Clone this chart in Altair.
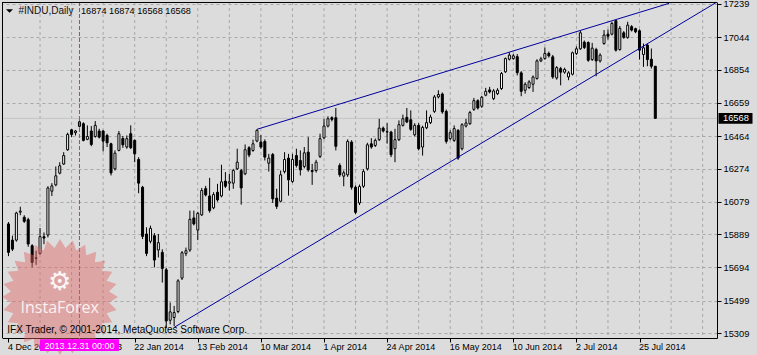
import math
import altair as alt
import pandas as pd

# ---------------- data ----------------
opens = [15949, 15854, 15854, 16018, 15988, 15974, 15821, 15747, 15776, 15874,
         15884, 16141, 16178, 16247, 16300, 16384, 16501, 16484, 16521, 16537,
         16445, 16494, 16462, 16494, 16494, 16468, 16419, 16272, 16380, 16450,
         16400, 16478, 16439, 16327, 16164, 15890, 15847, 15880, 15796, 15782,
         15680, 15384, 15400, 15435, 15631, 15776, 15796, 15984, 15913, 16002,
         16156, 16113, 16043, 16135, 16113, 16200, 16188, 16188, 16272, 16262,
         16243, 16396, 16380, 16435, 16429, 16433, 16305, 16356, 16100, 16082,
         16256, 16335, 16198, 16350, 16321, 16286, 16370, 16262, 16262, 16345,
         16454, 16523, 16572, 16572, 16292, 16229, 16237, 16429, 16164, 16072,
         16170, 16272, 16419, 16409, 16443, 16511, 16488, 16488, 16390, 16443,
         16527, 16574, 16560, 16472, 16527, 16400, 16513, 16543, 16609, 16694,
         16711, 16609, 16449, 16439, 16498, 16390, 16523, 16537, 16621, 16672,
         16639, 16704, 16735, 16684, 16713, 16743, 16841, 16915, 16919, 16930,
         16835, 16733, 16749, 16768, 16802, 16905, 16919, 16949, 16929, 16805,
         16860, 16839, 16811, 16827, 16949, 16976, 17015, 17013, 16913, 16972,
         16905, 17007, 17062, 17062, 17141, 16972, 17070, 17043, 17106, 17094,
         17082, 16943, 16998, 16915, 16874]
highs = [15960, 15880, 16020, 16050, 16000, 15985, 15830, 15792, 15925, 15899,
         16170, 16188, 16286, 16311, 16370, 16484, 16505, 16500, 16556, 16545,
         16527, 16523, 16552, 16507, 16500, 16478, 16425, 16380, 16494, 16465,
         16468, 16527, 16445, 16340, 16172, 15929, 15939, 15895, 15890, 15800,
         15690, 15488, 15468, 15625, 15790, 15810, 16027, 16027, 16020, 16160,
         16172, 16219, 16135, 16184, 16296, 16253, 16243, 16272, 16390, 16272,
         16415, 16405, 16443, 16504, 16470, 16445, 16360, 16365, 16155, 16262,
         16370, 16360, 16360, 16390, 16380, 16400, 16458, 16301, 16325, 16478,
         16566, 16580, 16580, 16629, 16305, 16262, 16445, 16440, 16175, 16180,
         16270, 16425, 16452, 16450, 16566, 16520, 16540, 16495, 16507, 16556,
         16590, 16629, 16615, 16540, 16540, 16525, 16615, 16590, 16705, 16733,
         16720, 16620, 16498, 16527, 16505, 16540, 16566, 16612, 16688, 16680,
         16700, 16747, 16753, 16740, 16745, 16840, 16925, 16955, 16947, 16945,
         16845, 16780, 16792, 16820, 16915, 16929, 16984, 16960, 16940, 16875,
         16870, 16865, 16845, 16960, 16990, 17082, 17025, 17020, 17011, 16982,
         16950, 17086, 17090, 17135, 17145, 17110, 17080, 17135, 17115, 17100,
         17090, 17007, 17005, 16978, 16874]
lows = [15760, 15790, 15845, 16000, 15955, 15815, 15694, 15709, 15770, 15830,
        15870, 16113, 16170, 16240, 16295, 16378, 16458, 16468, 16515, 16433,
        16440, 16405, 16455, 16450, 16374, 16400, 16233, 16262, 16375, 16395,
        16390, 16388, 16311, 16129, 15860, 15760, 15835, 15694, 15752, 15605,
        15340, 15360, 15350, 15425, 15620, 15760, 15785, 15940, 15854, 15995,
        16110, 16015, 16035, 16080, 16105, 16160, 16145, 16155, 16265, 16062,
        16235, 16340, 16372, 16428, 16390, 16321, 16256, 16072, 16037, 16075,
        16245, 16115, 16190, 16280, 16233, 16275, 16255, 16178, 16250, 16335,
        16445, 16515, 16550, 16380, 16225, 16170, 16225, 16150, 16007, 16060,
        16160, 16262, 16390, 16400, 16435, 16485, 16420, 16341, 16311, 16435,
        16520, 16540, 16495, 16462, 16380, 16350, 16505, 16535, 16600, 16685,
        16595, 16420, 16440, 16430, 16325, 16380, 16515, 16530, 16612, 16620,
        16630, 16698, 16715, 16675, 16705, 16735, 16835, 16908, 16912, 16820,
        16698, 16713, 16740, 16723, 16795, 16898, 16912, 16925, 16800, 16795,
        16762, 16830, 16792, 16820, 16940, 16970, 16975, 16900, 16905, 16815,
        16895, 17000, 17030, 17055, 16960, 16965, 17035, 17035, 17078, 17068,
        16913, 16870, 16874, 16860, 16568]
closes = [15782, 15801, 16013, 16024, 15964, 15831, 15723, 15750, 15874, 15866,
          16160, 16172, 16231, 16290, 16350, 16474, 16474, 16494, 16548, 16439,
          16462, 16415, 16527, 16458, 16435, 16425, 16248, 16364, 16478, 16413,
          16449, 16396, 16360, 16188, 15876, 15776, 15923, 15737, 15839, 15688,
          15380, 15433, 15429, 15615, 15780, 15792, 15976, 15949, 16011, 16145,
          16119, 16027, 16121, 16090, 16196, 16170, 16196, 16262, 16311, 16160,
          16384, 16353, 16419, 16498, 16400, 16341, 16335, 16096, 16052, 16237,
          16327, 16207, 16327, 16292, 16266, 16366, 16266, 16256, 16311, 16449,
          16523, 16566, 16562, 16404, 16237, 16249, 16433, 16164, 16017, 16168,
          16256, 16413, 16400, 16439, 16511, 16494, 16490, 16355, 16443, 16531,
          16566, 16547, 16504, 16527, 16390, 16515, 16543, 16576, 16694, 16708,
          16606, 16433, 16484, 16508, 16335, 16531, 16541, 16602, 16672, 16629,
          16692, 16727, 16723, 16729, 16733, 16831, 16919, 16939, 16935, 16836,
          16727, 16768, 16782, 16811, 16905, 16917, 16949, 16935, 16811, 16866,
          16839, 16855, 16835, 16953, 16976, 17070, 16984, 16909, 16980, 16905,
          16939, 17057, 17050, 17125, 16968, 17096, 17043, 17115, 17086, 17076,
          16968, 16982, 16913, 16874, 16568]
bar_index = list(range(len(closes)))

tick_index = [0, 16, 32, 48, 64, 80, 96, 112, 128, 144, 160]
tick_labels = ["4 Dec 2013", "27 Dec 2013", "22 Jan 2014", "13 Feb 2014", "10 Mar 2014",
               "1 Apr 2014", "24 Apr 2014", "16 May 2014", "10 Jun 2014", "2 Jul 2014",
               "25 Jul 2014"]
grid_index = list(range(8, 179, 8))
price_ticks = [17239, 17044, 16854, 16659, 16464, 16274, 16079, 15889, 15694, 15499, 15309]

# trend lines (bar index, price of their anchor points)
line_name = ["upper", "upper", "lower", "lower"]
line_index = [63, 167.5, 42, 185]
line_price = [16504, 17243, 15342, 17325]

cursor_index = 18
cursor_label = "2013.12.31 00:00"
symbol_label = "#INDU,Daily"
copyright_label = "IFX Trader, \u00a9 2001-2014, MetaQuotes Software Corp."
watermark_label = "InstaForex"

# ---------------- chart ----------------
W, H = 715, 336
FONT = "Liberation Sans"
BG = "#dcdcdc"
GRID = "#a8a8a8"

xs = alt.Scale(domain=[-0.375, 178.375], nice=False, zero=False)
ys = alt.Scale(domain=[15279.8, 17250.7], nice=False, zero=False)

label_expr = "[" + ",".join("'%s'" % t for t in tick_labels) + "][round(datum.value / 16)]"

XAXIS = alt.Axis(values=tick_index, labelExpr=label_expr, grid=False, title=None,
                 tickSize=4, tickColor="black", domainColor="black",
                 labelFont=FONT, labelFontSize=9, labelColor="black",
                 labelAlign="left", labelOffset=-1, labelBaseline="top",
                 labelPadding=0, labelFlush=False, labelOverlap=False)
YAXIS = alt.Axis(orient="right", values=price_ticks, format="d", title=None,
                 grid=True, gridColor=GRID, gridDash=[3, 3], gridWidth=1,
                 tickSize=4, tickColor="black", domainColor="black",
                 labelFont=FONT, labelFontSize=9.3, labelColor="black",
                 labelPadding=2, labelBaseline="middle",
                 labelFlush=False, labelOverlap=False, labelBound=False)


def X(field):
    return alt.X(field, scale=xs, axis=XAXIS, title=None)


def Y(field):
    return alt.Y(field, scale=ys, axis=YAXIS, title=None)


df = pd.DataFrame({"i": bar_index, "o": opens, "h": highs, "l": lows, "c": closes})
df["dir"] = ["up" if c >= o else "down" for o, c in zip(opens, closes)]

one = pd.DataFrame({"k": [0]})

vgrid = alt.Chart(pd.DataFrame({"i": grid_index})).mark_rule(
    color=GRID, strokeWidth=1, strokeDash=[3, 3]
).encode(x=X("i:Q"), y=alt.value(0), y2=alt.value(H))

bid = closes[-1]
bidline = alt.Chart(pd.DataFrame({"l": [bid]})).mark_rule(color="#c4c4c4", strokeWidth=1).encode(
    y=Y("l:Q"), x=alt.value(0), x2=alt.value(W)
)

wicks = alt.Chart(df).mark_rule(color="black", strokeWidth=1).encode(
    x=X("i:Q"), y=Y("l:Q"), y2="h:Q",
)

bodies = alt.Chart(df).mark_bar(size=2, stroke="black", strokeWidth=1).encode(
    x=X("i:Q"),
    y=Y("o:Q"),
    y2="c:Q",
    fill=alt.Fill("dir:N", scale=alt.Scale(domain=["up", "down"], range=["white", "black"]),
                  legend=None),
)

trend = alt.Chart(pd.DataFrame({"name": line_name, "i": line_index, "l": line_price})).mark_line(
    color="#00009c", strokeWidth=1, clip=True
).encode(
    x=X("i:Q"),
    y=Y("l:Q"),
    detail="name:N",
)

cursor = alt.Chart(pd.DataFrame({"i": [cursor_index]})).mark_rule(
    color="#ff00ff", strokeWidth=1, strokeDash=[4, 2]
).encode(x=X("i:Q"), y=alt.value(0), y2=alt.value(H + 3))

# watermark (decoration)
n_spikes = 28
pts = []
for k in range(2 * n_spikes):
    r = 1.0 if k % 2 == 0 else 0.85
    a = math.pi * k / n_spikes
    pts.append("%.4f,%.4f" % (r * math.sin(a), -r * math.cos(a)))
star_path = "M" + "L".join(pts) + "Z"

star = alt.Chart(one).mark_point(
    shape=star_path, size=116 * 116, filled=True, fill="#e06262", opacity=0.45, strokeWidth=0
).encode(x=alt.value(58), y=alt.value(295))
gear = alt.Chart(one).mark_text(
    text="\u2699", font="DejaVu Sans", fontSize=26, color="white", opacity=0.9,
    align="center", baseline="middle"
).encode(x=alt.value(57.7), y=alt.value(280))
wm_text = alt.Chart(one).mark_text(
    text=watermark_label, font="Open Sans", fontSize=16, color="white", opacity=0.85,
    align="center", baseline="middle"
).encode(x=alt.value(57.7), y=alt.value(306))

# header / footer texts
tri = alt.Chart(one).mark_point(
    shape="M-1,-0.5L1,-0.5L0,0.5Z", size=49, filled=True, fill="black", strokeWidth=0, opacity=1
).encode(x=alt.value(7.5), y=alt.value(9))
sym = alt.Chart(one).mark_text(
    text=symbol_label, font=FONT, fontSize=10, color="#101018", align="left", baseline="middle"
).encode(x=alt.value(16.5), y=alt.value(8.8))
ohlc_text = "%d %d %d %d" % (opens[-1], highs[-1], lows[-1], closes[-1])
ohlc = alt.Chart(one).mark_text(
    text=ohlc_text, font=FONT, fontSize=9.2, color="black", align="left", baseline="middle"
).encode(x=alt.value(79), y=alt.value(8.8))
copy_t = alt.Chart(one).mark_text(
    text=copyright_label, font=FONT, fontSize=10, color="black", align="left", baseline="middle"
).encode(x=alt.value(5.3), y=alt.value(328))

# borders (left / top)
left_b = alt.Chart(one).mark_rule(color="black", strokeWidth=1).encode(
    x=alt.value(0.5), y=alt.value(0), y2=alt.value(H))
top_b = alt.Chart(one).mark_rule(color="black", strokeWidth=1).encode(
    y=alt.value(0.5), x=alt.value(0), x2=alt.value(W))

# cursor date box on the time axis
cbox = alt.Chart(pd.DataFrame({"i": [cursor_index]})).mark_point(
    shape="M-1,-0.148L1,-0.148L1,0.148L-1,0.148Z", size=79 * 79, filled=True,
    fill="#ff00ff", strokeWidth=0, opacity=1
).encode(x=X("i:Q"), y=alt.value(343.2))
ctext = alt.Chart(pd.DataFrame({"i": [cursor_index]})).mark_text(
    text=cursor_label, font=FONT, fontSize=9, color="white", align="center", baseline="middle"
).encode(x=X("i:Q"), y=alt.value(343.6))

# bid price box on the price axis
bbox = alt.Chart(pd.DataFrame({"l": [bid]})).mark_point(
    shape="M-1,-0.32L1,-0.32L1,0.32L-1,0.32Z", size=34 * 34, filled=True,
    fill="black", strokeWidth=0, opacity=1
).encode(x=alt.value(733.5), y=Y("l:Q"))
btext = alt.Chart(pd.DataFrame({"l": [bid]})).mark_text(
    font=FONT, fontSize=9.3, color="white", align="left", baseline="middle"
).encode(x=alt.value(721), y=Y("l:Q"), text=alt.Text("l:Q", format="d"))

chart = alt.layer(
    vgrid, bidline, wicks, bodies, trend, cursor, left_b, top_b,
    star, gear, wm_text, tri, sym, ohlc, copy_t, cbox, ctext, bbox, btext
).properties(
    width=W, height=H,
    autosize=alt.AutoSizeParams(type="none"),
    padding={"left": 2, "top": 2, "right": 40, "bottom": 17},
    background=BG,
).configure_view(stroke=None, fill=BG)

chart.save("out.html", embed_options={"renderer": "svg", "actions": False})
